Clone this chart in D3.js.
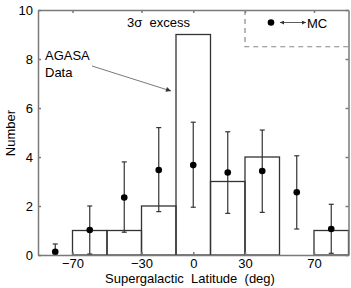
<!DOCTYPE html>
<html><head><meta charset="utf-8">
<script src="https://cdn.jsdelivr.net/npm/d3@7"></script>
<style>body{margin:0;background:#fff}svg{display:block}text{font-family:"Liberation Sans",Arial,sans-serif;}</style>
</head><body>
<svg id="c" width="351" height="288"></svg>
<script>
const binEdges = [-90,-70,-50,-30,-10,10,30,50,70,90];
const agasaCounts = [0,1,1,2,9,3,4,0,1];
const mcCenters = [-80,-60,-40,-20,0,20,40,60,80];
const mcMean = [0.13,1.02,2.35,3.47,3.67,3.37,3.43,2.56,1.06];
const mcLow  = [0.0,0.04,0.93,1.77,1.95,1.70,1.74,1.06,0.07];
const mcHigh = [0.45,2.0,3.8,5.2,5.42,5.03,5.1,4.05,2.07];
const xTicks = [-70,-30,0,30,70];
const yTicks = [0,2,4,6,8,10];

const svg = d3.select("#c");
const L=38,R=348.5,T=10,B=255;
const x = d3.scaleLinear().domain([-90,90]).range([L,R]);
const y = d3.scaleLinear().domain([0,10]).range([B,T]);
const axisCol="#7a7a7a", fs=13;
const sp="\u00a0";

// bars
const bins = agasaCounts.map((c,i)=>({x0:binEdges[i],x1:binEdges[i+1],c}));
svg.append("g").selectAll("rect").data(bins.filter(d=>d.c>0)).join("rect")
  .attr("x",d=>x(d.x0)).attr("y",d=>y(d.c))
  .attr("width",d=>x(d.x1)-x(d.x0)).attr("height",d=>y(0)-y(d.c))
  .attr("fill","none").attr("stroke","#333").attr("stroke-width",1.3);

// error bars
const eg = svg.append("g").attr("stroke","#333").attr("stroke-width",1.2);
mcCenters.forEach((c,i)=>{
  const cx=x(c);
  eg.append("line").attr("x1",cx).attr("x2",cx).attr("y1",y(mcLow[i])).attr("y2",y(mcHigh[i]));
  eg.append("line").attr("x1",cx-2.5).attr("x2",cx+2.5).attr("y1",y(mcHigh[i])).attr("y2",y(mcHigh[i]));
  eg.append("line").attr("x1",cx-2.5).attr("x2",cx+2.5).attr("y1",y(mcLow[i])).attr("y2",y(mcLow[i]));
});
svg.append("g").selectAll("circle").data(mcCenters).join("circle")
  .attr("cx",d=>x(d)).attr("cy",(d,i)=>y(mcMean[i])).attr("r",3.3).attr("fill","#000");

// axes frame
const axB = d3.axisBottom(x).tickValues(xTicks).tickSizeInner(-3).tickSizeOuter(0).tickPadding(3.5).tickFormat(d=>d<0?"\u2212"+Math.abs(d):d);
const axT = d3.axisTop(x).tickValues(xTicks).tickSizeInner(-3).tickSizeOuter(0).tickFormat("");
const axL = d3.axisLeft(y).tickValues(yTicks).tickSizeInner(-3).tickSizeOuter(0).tickPadding(5);
const axR = d3.axisRight(y).tickValues(yTicks).tickSizeInner(-3).tickSizeOuter(0).tickFormat("");
function style(g){g.selectAll("path,line").attr("stroke",axisCol).attr("stroke-width",1.5);
  g.selectAll("text").attr("fill","#000").attr("font-size",fs).attr("font-family","Liberation Sans, Arial, sans-serif");}
svg.append("g").attr("transform",`translate(0,${B})`).call(axB).call(style);
svg.append("g").attr("transform",`translate(0,${T})`).call(axT).call(style);
svg.append("g").attr("transform",`translate(${L},0)`).call(axL).call(style);
svg.append("g").attr("transform",`translate(${R},0)`).call(axR).call(style);

// labels
svg.append("text").attr("x",190).attr("y",283).attr("text-anchor","middle").attr("font-size",fs)
  .text("Supergalactic"+sp+sp+"Latitude"+sp+sp+"(deg)");
svg.append("text").attr("transform","translate(15,133) rotate(-90)").attr("text-anchor","middle").attr("font-size",fs).text("Number");

svg.append("text").attr("x",127).attr("y",27).attr("font-size",fs).text("3\u03c3"+sp+sp+"excess");
svg.append("text").attr("x",45).attr("y",60).attr("font-size",fs).text("AGASA");
svg.append("text").attr("x",45).attr("y",77).attr("font-size",fs).text("Data");

// arrow
const defs = svg.append("defs");
defs.append("marker").attr("id","ah").attr("viewBox","0 0 10 10").attr("refX",10).attr("refY",5)
  .attr("markerWidth",7).attr("markerHeight",5).attr("orient","auto").attr("markerUnits","userSpaceOnUse")
  .append("path").attr("d","M0,0L10,5L0,10z").attr("fill","#333");
defs.append("marker").attr("id","ah2").attr("viewBox","0 0 10 10").attr("refX",10).attr("refY",5)
  .attr("markerWidth",5).attr("markerHeight",4).attr("orient","auto-start-reverse").attr("markerUnits","userSpaceOnUse")
  .append("path").attr("d","M0,0L10,5L0,10z").attr("fill","#333");
svg.append("line").attr("x1",92).attr("y1",66).attr("x2",171).attr("y2",91)
  .attr("stroke","#555").attr("stroke-width",0.8).attr("marker-end","url(#ah)");

// legend
svg.append("path").attr("d",`M${x(30)},${T}V${y(8.5)}H${R}`).attr("fill","none")
  .attr("stroke","#888").attr("stroke-width",1.2).attr("stroke-dasharray","5,4");
svg.append("circle").attr("cx",271).attr("cy",22.5).attr("r",3.3).attr("fill","#000");
svg.append("line").attr("x1",280).attr("x2",306).attr("y1",22.5).attr("y2",22.5).attr("stroke","#333").attr("stroke-width",0.8)
  .attr("marker-start","url(#ah2)").attr("marker-end","url(#ah2)");
svg.append("text").attr("x",307).attr("y",27.5).attr("font-size",fs).text("MC");
</script>
</body></html>
